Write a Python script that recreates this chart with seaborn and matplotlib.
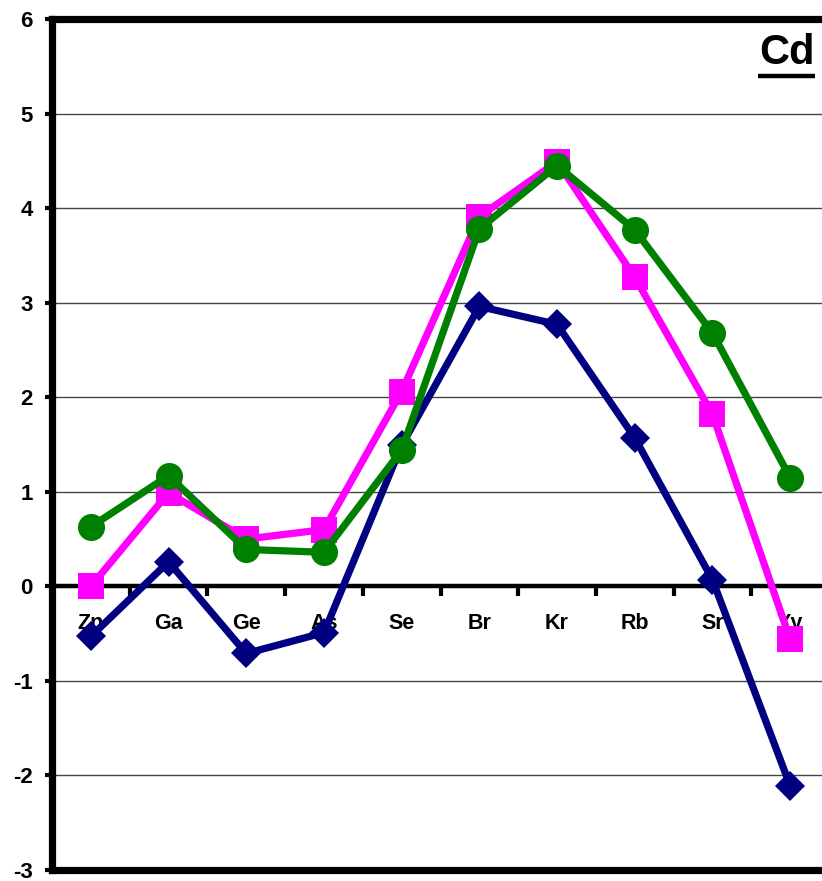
import numpy as np
import pandas as pd
import matplotlib
matplotlib.use("Agg")
import matplotlib.pyplot as plt
import seaborn as sns
from matplotlib.lines import Line2D

categories = ["Zn", "Ga", "Ge", "As", "Se", "Br", "Kr", "Rb", "Sr", "Yy"]
series_blue = [-0.53, 0.26, -0.71, -0.49, 1.49, 2.96, 2.77, 1.57, 0.07, -2.11]
series_magenta = [0.00, 0.99, 0.50, 0.60, 2.06, 3.91, 4.49, 3.27, 1.82, -0.56]
series_green = [0.63, 1.17, 0.39, 0.36, 1.44, 3.78, 4.45, 3.77, 2.68, 1.15]
y_ticks = [-3, -2, -1, 0, 1, 2, 3, 4, 5, 6]
title_text = "Cd"

sns.set_theme(style="white")
plt.rcParams["font.family"] = ["Liberation Sans", "DejaVu Sans"]
plt.rcParams["text.color"] = "black"
plt.rcParams["xtick.color"] = "black"
plt.rcParams["ytick.color"] = "black"

W, H = 822, 881
fig = plt.figure(figsize=(W / 100, H / 100), dpi=100)
left, right, top, bottom = 52, 829, 19, 870
ax = fig.add_axes([left / W, (H - bottom) / H, (right - left) / W, (bottom - top) / H])

x = np.arange(len(categories))
df = pd.DataFrame({"x": x, "blue": series_blue, "magenta": series_magenta, "green": series_green})

ax.axhline(0, color="black", lw=3.2, zorder=2)

specs = [
    ("blue", "#000080", "D", 15.5, 3),
    ("magenta", "#FF00FF", "s", 19, 4),
    ("green", "#008000", "o", 19.5, 5),
]
for col, color, mk, ms, z in specs:
    sns.lineplot(data=df, x="x", y=col, ax=ax, color=color, lw=5.2, marker=mk,
                 markersize=ms, markeredgewidth=0, zorder=z, clip_on=False)

ax.set_xlim(-0.5, len(categories) - 0.5)
ax.set_ylim(-3, 6)
ax.set_yticks(y_ticks)
ax.set_yticklabels([str(v) for v in y_ticks], fontsize=16, fontweight="bold", color="black")
ax.yaxis.grid(True, color="#444444", lw=1.0)
ax.set_axisbelow(True)
ax.tick_params(axis="y", direction="out", length=5, width=3, color="black", pad=9, left=True)
ax.set_xticks([])
ax.set_xlabel("")
ax.set_ylabel("")

for side in ["left", "top", "bottom"]:
    ax.spines[side].set_linewidth(5.2)
    ax.spines[side].set_color("black")
ax.spines["right"].set_visible(False)

sec = ax.secondary_xaxis(1 / 3)
sec.spines["bottom"].set_visible(False)
sec.set_xticks(x[:-1] + 0.5)
sec.set_xticklabels([])
sec.tick_params(axis="x", direction="out", length=7, width=3, color="black")
sec.set_xticks(x, minor=True)
sec.set_xticklabels(categories, minor=True, fontsize=15.5, fontweight="bold", color="black")
sec.tick_params(axis="x", which="minor", length=0, pad=19)

ax.text(0.982, 0.9475, title_text, transform=ax.transAxes, ha="right", va="baseline",
        fontsize=30, fontweight="bold", color="black")
ax.add_line(Line2D([0.908, 0.982], [0.9325, 0.9325], transform=ax.transAxes,
                   color="black", lw=3.2, solid_capstyle="butt"))

fig.savefig("out.png", dpi=100)
